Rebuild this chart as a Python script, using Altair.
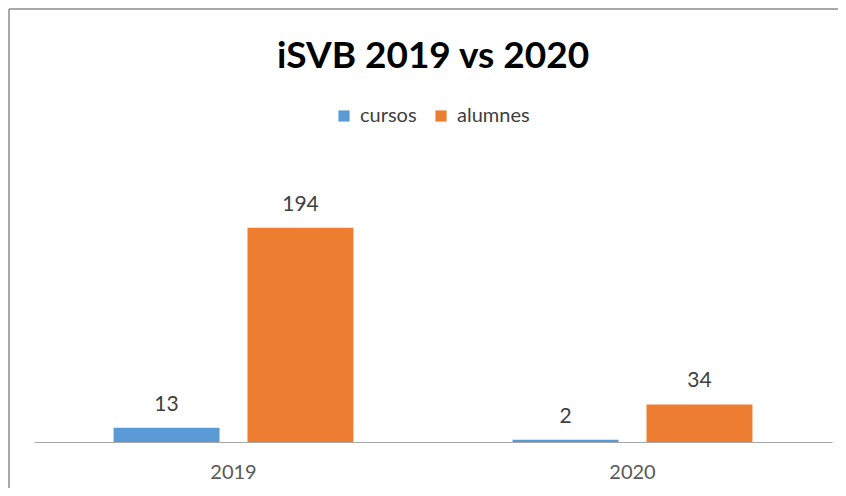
import altair as alt
import pandas as pd

years = ["2019", "2019", "2020", "2020"]
series = ["cursos", "alumnes", "cursos", "alumnes"]
values = [13, 194, 2, 34]

df = pd.DataFrame({"year": years, "series": series, "value": values})
order = ["cursos", "alumnes"]
colors = ["#5B9BD5", "#ED7D31"]
FONT = "Lato"

base = alt.Chart(df).encode(
    x=alt.X("year:N", title=None,
            scale=alt.Scale(paddingInner=0, paddingOuter=0),
            axis=alt.Axis(labelAngle=0, labelFontSize=20, labelColor="#595959",
                          labelFont=FONT, labelPadding=20, tickSize=0, ticks=False,
                          domainColor="#a6a6a6", domainWidth=1.2)),
    xOffset=alt.XOffset("series:N", sort=order,
                        scale=alt.Scale(paddingInner=0.209, paddingOuter=0.594)),
    y=alt.Y("value:Q", scale=alt.Scale(domain=[0, 250]), axis=None),
)

bars = base.mark_bar().encode(
    color=alt.Color("series:N", sort=order,
                    scale=alt.Scale(domain=order, range=colors),
                    legend=alt.Legend(title=None, orient="none", direction="horizontal",
                                      legendX=300, legendY=-60, symbolType="square",
                                      symbolSize=125, symbolStrokeWidth=0,
                                      labelFontSize=20, labelFont=FONT,
                                      labelColor="#404040", columnPadding=14,
                                      labelOffset=6))
)

labels = base.mark_text(baseline="alphabetic", dy=-17, fontSize=21, font=FONT,
                        color="#404040").encode(text="value:Q")

frame = pd.DataFrame({"a": [0]})
border_top = alt.Chart(frame).mark_rule(color="#8c8c8c", strokeWidth=1.5).encode(
    x=alt.value(-25), x2=alt.value(900), y=alt.value(-157))
border_left = alt.Chart(frame).mark_rule(color="#8c8c8c", strokeWidth=1.5).encode(
    x=alt.value(-25), y=alt.value(-157), y2=alt.value(500))

chart = alt.layer(border_top, border_left, bars, labels).properties(
    width=798, height=276,
    title=alt.TitleParams("iSVB 2019 vs 2020", font=FONT, fontSize=37,
                          fontWeight="bold", color="#000000", anchor="middle",
                          offset=0, dy=68),
    autosize=alt.AutoSizeParams(type="none"),
    padding={"left": 26, "top": 158, "right": 6, "bottom": 46},
).configure(background="white").configure_view(stroke=None)

chart.save("out.html", embed_options={"renderer": "svg", "actions": False})
